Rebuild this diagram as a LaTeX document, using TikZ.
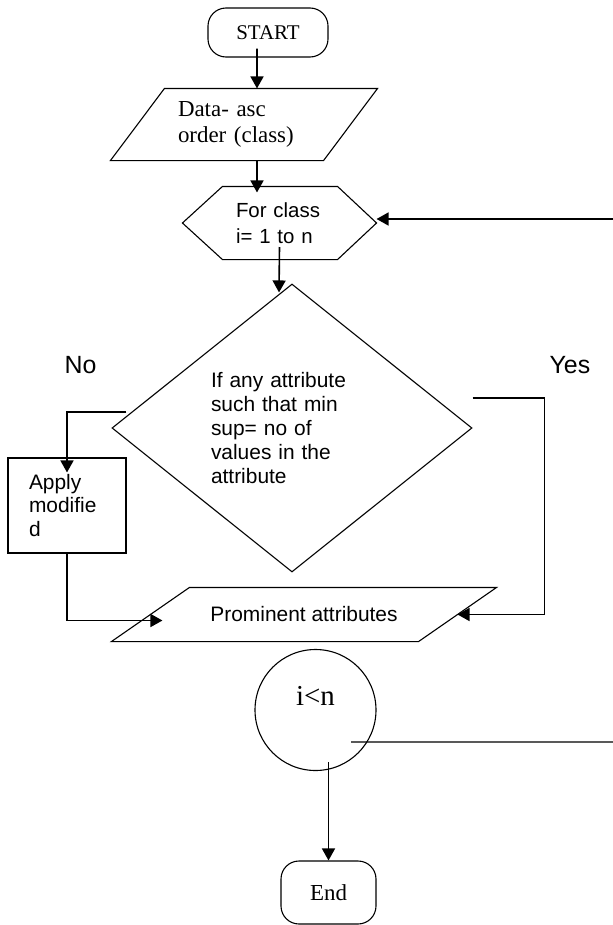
\documentclass[tikz,border=0pt]{standalone}
\usepackage{fontspec}
\setmainfont{Liberation Serif}
\newfontfamily\arialfont{Liberation Sans}
\usetikzlibrary{shapes.geometric,arrows.meta}

\begin{document}
\begin{tikzpicture}[x=1bp, y=-1bp,
		line width=1.1bp,
		term/.style={draw, rounded corners=18bp, inner sep=0pt, font=\fontsize{21}{25}\selectfont},
		io/.style={inner sep=0pt, align=left, font=\fontsize{23}{26}\selectfont},
		prep/.style={inner sep=0pt, align=left, text width=87bp, minimum width=193bp, minimum height=72bp, font=\arialfont\fontsize{20.5}{26.7}\selectfont},
		decision/.style={diamond, draw, inner sep=0pt, minimum width=360bp, minimum height=288bp, text width=162bp, align=left, font=\arialfont\fontsize{21}{24.3}\selectfont},
		process/.style={draw, inner sep=0pt, minimum width=118bp, minimum height=95bp, text width=76bp, align=left, font=\arialfont\fontsize{21}{23.5}\selectfont},
		check/.style={circle, draw, inner sep=0pt, minimum size=121bp, text depth=28bp, font=\fontsize{29}{32}\selectfont},
		lbl/.style={inner sep=0pt, anchor=base west, font=\arialfont\fontsize{25}{28}\selectfont},
		arrow/.style={line width=1.6bp, -{Triangle[length=12bp, width=13bp]}}]
	\useasboundingbox (0,0) rectangle (613,925);
	
	% Start and data
	\node[term, minimum width=120bp, minimum height=49bp] (start) at (268,32.5) {START};
	\node[io, text width=132bp, minimum width=212bp, minimum height=71bp] (data) at (244,124.5) {Data- asc\\order (class)};
	\draw ([xshift=27bp]data.north west) -- ([xshift=27bp]data.north east) -- ([xshift=-27bp]data.south east) -- ([xshift=-27bp]data.south west) -- cycle;
	
	% Loop over classes
	\node[prep] (hex) at (279.5,223) {For class\\i= 1 to n};
	\draw (hex.west) -- ([xshift=40bp]hex.north west) -- ([xshift=-39bp]hex.north east) -- (hex.east) -- ([xshift=-39bp]hex.south east) -- ([xshift=40bp]hex.south west) -- cycle;
	
	% Decision
	\node[decision] (cond) at (292,428) {If any attribute\\such that min\\sup= no of\\values in the\\attribute};
	\node[lbl] (nolbl) at (64,373) {No};
	\node[lbl] (yeslbl) at (549,373) {Yes};
	\node[process] (apply) at (67,505.5) {Apply\\modifie\\d};
	
	% Output
	\node[io, font=\arialfont\fontsize{21}{24}\selectfont, minimum width=306bp, minimum height=53bp] (prom) at (304,614.5) {Prominent attributes};
	\draw ([xshift=39bp]prom.north west) -- ([xshift=39bp]prom.north east) -- ([xshift=-39bp]prom.south east) -- ([xshift=-39bp]prom.south west) -- cycle;
	
	% Test and end
	\node[check] (test) at (315.5,710) {i<n};
	\node[term, minimum width=95bp, minimum height=63bp, font=\fontsize{23}{26}\selectfont] (end) at (328.5,892.5) {End};
	\coordinate (loopin) at (613,219);
	\coordinate (loopout) at (613,742);
	
	% Connections
	\draw[arrow] ([xshift=-11bp,yshift=9bp]start.south) -- ([xshift=13bp]data.north);
	\draw[arrow] ([xshift=13bp]data.south) -- ([xshift=-22.5bp,yshift=-6bp]hex.north);
	\draw[arrow] (loopin) -- (loopin -| hex.east);
	\draw[arrow] ([yshift=-24bp]hex.center) -- ([xshift=-13bp,yshift=-9bp]cond.north);
	\draw[arrow] ([xshift=15bp,yshift=16bp]cond.west) -| ([yshift=-15bp]apply.north);
	\draw[arrow] ([yshift=30bp]cond.east) -- ++(72,0) |- (prom.east);
	\draw[arrow] (apply.south) |- ([xshift=12bp,yshift=-6bp]prom.west);
	\draw ([xshift=35.5bp,yshift=-32bp]test.center) -- (loopout);
	\draw[arrow] ([yshift=98bp]end.north) -- (end.north);
\end{tikzpicture}
\end{document}
